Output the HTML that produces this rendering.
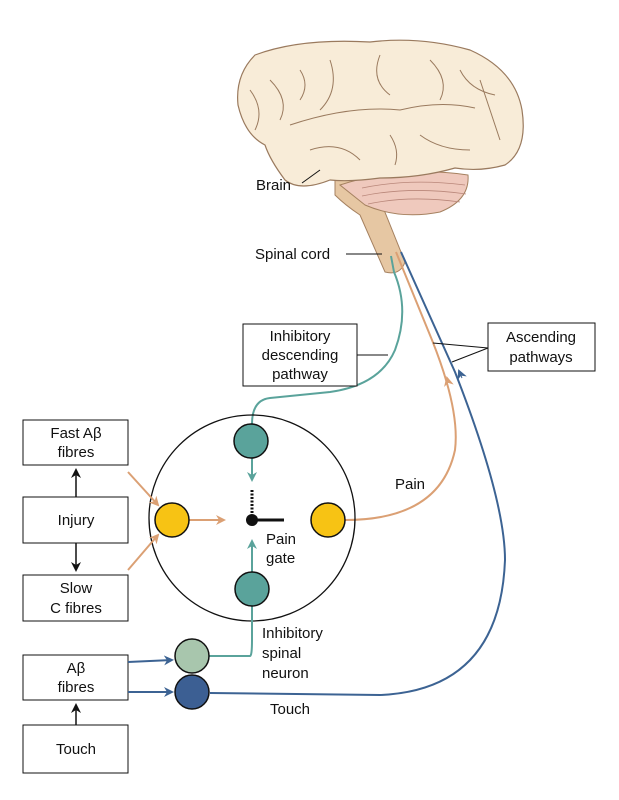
<!DOCTYPE html>
<html><head><style>
body{margin:0;background:#fff}
svg{display:block}
text{font-family:"Liberation Sans",sans-serif;font-size:15px;fill:#111}
</style></head><body>
<svg width="619" height="800" viewBox="0 0 619 800">
<defs>
<marker id="ao" markerWidth="10" markerHeight="10" refX="8" refY="5" orient="auto" markerUnits="userSpaceOnUse"><path d="M0,0 L10,5 L0,10 L3,5z" fill="#dba074"/></marker>
<marker id="at" markerWidth="10" markerHeight="10" refX="8" refY="5" orient="auto" markerUnits="userSpaceOnUse"><path d="M0,0 L10,5 L0,10 L3,5z" fill="#5aa39b"/></marker>
<marker id="ab" markerWidth="10" markerHeight="10" refX="8" refY="5" orient="auto" markerUnits="userSpaceOnUse"><path d="M0,0 L10,5 L0,10 L3,5z" fill="#3c6393"/></marker>
<marker id="ak" markerWidth="10" markerHeight="10" refX="8" refY="5" orient="auto" markerUnits="userSpaceOnUse"><path d="M0,0 L10,5 L0,10 L3,5z" fill="#111"/></marker>
</defs>
<!-- brain -->
<path d="M335,178 L370,175 L405,262 Q400,276 385,272 L360,215 Q345,205 335,195 Z" fill="#e6c7a3" stroke="#a58160"/>
<path d="M340,185 Q400,165 468,175 Q470,200 440,212 Q400,220 365,205 Z" fill="#efc9bd" stroke="#a58160"/>
<path d="M255,55 Q300,38 370,42 Q420,36 470,50 Q515,70 522,110 Q528,150 505,165 Q480,172 455,168 Q420,178 380,178 Q350,182 330,180 Q300,192 285,180 Q270,160 265,145 Q245,135 238,105 Q235,75 255,55Z" fill="#f8ecd8" stroke="#9a7a5e" stroke-width="1.2"/>
<g stroke="#9a7a5e" fill="none" stroke-width="1">
<path d="M290,125 Q350,105 400,110 Q440,100 475,108"/><path d="M270,80 Q290,100 280,120"/><path d="M330,60 Q340,90 320,110"/><path d="M380,55 Q370,80 390,95"/><path d="M430,60 Q450,80 440,100"/><path d="M480,80 Q490,110 500,140"/><path d="M310,150 Q340,140 360,160"/><path d="M420,135 Q440,150 470,150"/><path d="M250,90 Q265,110 255,130"/><path d="M300,70 Q310,85 300,100"/><path d="M460,70 Q470,90 495,95"/><path d="M390,135 Q400,150 395,165"/>
</g>
<g stroke="#b9877a" fill="none" stroke-width="0.8"><path d="M362,188 Q410,178 465,185"/><path d="M362,196 Q410,186 466,194"/><path d="M368,204 Q410,195 460,202"/></g>
<line x1="302" y1="183" x2="320" y2="170" stroke="#111"/>
<text x="256" y="190">Brain</text>
<text x="255" y="259">Spinal cord</text>
<line x1="346" y1="254" x2="382" y2="254" stroke="#111"/>
<!-- pathways -->
<path d="M391,256 L394,272 Q410,310 395,350 Q380,385 330,392 L270,398 Q252,400 252,424" fill="none" stroke="#5aa39b" stroke-width="2"/>
<path d="M396,252 L432,340 Q460,410 455,450 Q440,520 345,520" fill="none" stroke="#dba074" stroke-width="2"/>
<path d="M448,382 L447,378" stroke="#dba074" marker-end="url(#ao)"/>
<path d="M401,252 L455,372 Q505,500 505,560 Q500,690 380,695 L210,693" fill="none" stroke="#3c6393" stroke-width="2"/>
<path d="M462,378 L459,371" stroke="#3c6393" marker-end="url(#ab)"/>
<!-- labels boxes -->
<rect x="243" y="324" width="114" height="62" fill="#fff" stroke="#111"/>
<text x="300" y="341" text-anchor="middle">Inhibitory</text><text x="300" y="360" text-anchor="middle">descending</text><text x="300" y="379" text-anchor="middle">pathway</text>
<line x1="357" y1="355" x2="388" y2="355" stroke="#111"/>
<rect x="488" y="323" width="107" height="48" fill="#fff" stroke="#111"/>
<text x="541" y="342" text-anchor="middle">Ascending</text><text x="541" y="362" text-anchor="middle">pathways</text>
<line x1="488" y1="348" x2="433" y2="343" stroke="#111"/><line x1="488" y1="348" x2="452" y2="362" stroke="#111"/>
<text x="395" y="489">Pain</text>
<!-- gate circle -->
<circle cx="252" cy="518" r="103" fill="none" stroke="#111" stroke-width="1.3"/>
<path d="M250,656 Q252,656 252,640 L252,606" fill="none" stroke="#5aa39b" stroke-width="2"/>
<path d="M208,656 L250,656" stroke="#5aa39b" stroke-width="2"/>
<line x1="252" y1="458" x2="252" y2="480" stroke="#5aa39b" stroke-width="2" marker-end="url(#at)"/>
<line x1="252" y1="572" x2="252" y2="541" stroke="#5aa39b" stroke-width="2" marker-end="url(#at)"/>
<line x1="189" y1="520" x2="224" y2="520" stroke="#dba074" stroke-width="2" marker-end="url(#ao)"/>
<line x1="128" y1="472" x2="158" y2="505" stroke="#dba074" stroke-width="2" marker-end="url(#ao)"/>
<line x1="128" y1="570" x2="158" y2="535" stroke="#dba074" stroke-width="2" marker-end="url(#ao)"/>
<circle cx="251" cy="441" r="17" fill="#5aa39b" stroke="#111" stroke-width="1.5"/>
<circle cx="252" cy="589" r="17" fill="#5aa39b" stroke="#111" stroke-width="1.5"/>
<circle cx="172" cy="520" r="17" fill="#f7c314" stroke="#111" stroke-width="1.5"/>
<circle cx="328" cy="520" r="17" fill="#f7c314" stroke="#111" stroke-width="1.5"/>
<line x1="252" y1="520" x2="252" y2="490" stroke="#111" stroke-width="3" stroke-dasharray="2,1.5"/>
<line x1="252" y1="520" x2="284" y2="520" stroke="#111" stroke-width="3"/>
<circle cx="252" cy="520" r="6" fill="#111"/>
<text x="266" y="544">Pain</text><text x="266" y="563">gate</text>
<text x="262" y="638">Inhibitory</text><text x="262" y="658">spinal</text><text x="262" y="678">neuron</text>
<text x="270" y="714">Touch</text>
<!-- left boxes -->
<rect x="23" y="420" width="105" height="45" fill="#fff" stroke="#111"/>
<text x="76" y="438" text-anchor="middle">Fast Aβ</text><text x="76" y="457" text-anchor="middle">fibres</text>
<rect x="23" y="497" width="105" height="46" fill="#fff" stroke="#111"/>
<text x="76" y="525" text-anchor="middle">Injury</text>
<rect x="23" y="575" width="105" height="46" fill="#fff" stroke="#111"/>
<text x="76" y="593" text-anchor="middle">Slow</text><text x="76" y="613" text-anchor="middle">C fibres</text>
<rect x="23" y="655" width="105" height="45" fill="#fff" stroke="#111"/>
<text x="76" y="673" text-anchor="middle">Aβ</text><text x="76" y="692" text-anchor="middle">fibres</text>
<rect x="23" y="725" width="105" height="48" fill="#fff" stroke="#111"/>
<text x="76" y="754" text-anchor="middle">Touch</text>
<line x1="76" y1="497" x2="76" y2="470" stroke="#111" stroke-width="1.5" marker-end="url(#ak)"/>
<line x1="76" y1="543" x2="76" y2="570" stroke="#111" stroke-width="1.5" marker-end="url(#ak)"/>
<line x1="76" y1="725" x2="76" y2="705" stroke="#111" stroke-width="1.5" marker-end="url(#ak)"/>
<line x1="128" y1="662" x2="172" y2="660" stroke="#3c6393" stroke-width="2" marker-end="url(#ab)"/>
<line x1="128" y1="692" x2="172" y2="692" stroke="#3c6393" stroke-width="2" marker-end="url(#ab)"/>
<circle cx="192" cy="656" r="17" fill="#a8c6ad" stroke="#111" stroke-width="1.5"/>
<circle cx="192" cy="692" r="17" fill="#3c5f93" stroke="#111" stroke-width="1.5"/>
</svg>
</body></html>
